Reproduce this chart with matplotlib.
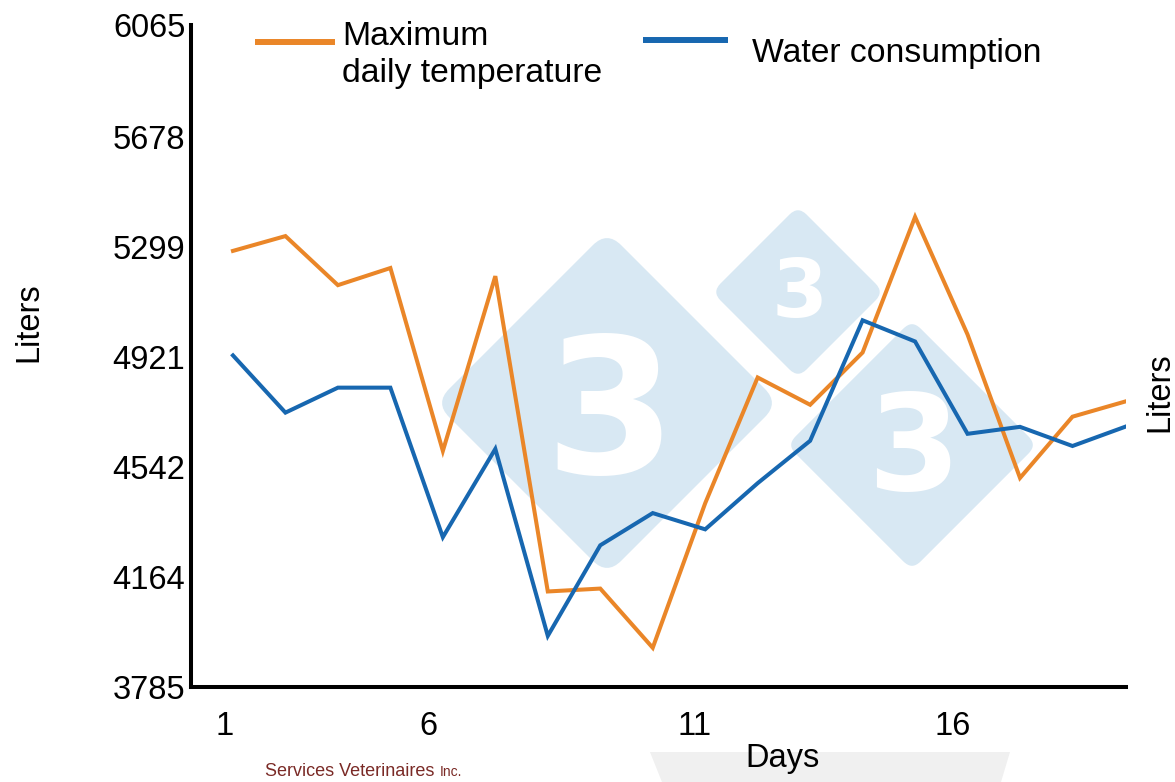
import matplotlib.pyplot as plt
from matplotlib.patches import FancyBboxPatch, Polygon
from matplotlib.transforms import Affine2D

plt.rcParams['font.family'] = ['Liberation Sans', 'DejaVu Sans']

# daily series, both on the liters scale
days = list(range(1, 19))
max_temp = [5287, 5338, 5169, 5228, 4598, 5200, 4114, 4124, 3920,
            4418, 4851, 4757, 4937, 5404, 4999, 4505, 4716, 4768]
water = [4927, 4730, 4816, 4816, 4301, 4605, 3961, 4273, 4384,
         4328, 4487, 4633, 5048, 4975, 4657, 4681, 4615, 4681]

y_ticks = [3785, 4164, 4542, 4921, 5299, 5678, 6065]
x_tick_pos = [0.85, 4.72, 9.79, 14.72]
x_tick_labels = ["1", "6", "11", "16"]

ORANGE = "#ea8628"
BLUE = "#1767b0"
WM = "#d8e8f3"
W, H = 1175, 782

fig = plt.figure(figsize=(W / 100, H / 100), dpi=100)

# background layer in pixel units (watermark, labels, legend)
bg = fig.add_axes([0, 0, 1, 1], zorder=0)
bg.set_xlim(0, W)
bg.set_ylim(H, 0)
bg.axis("off")


def diamond(cx, cy, half_diag, r, edge=None, lw=0):
    side = half_diag * 2 ** 0.5
    p = FancyBboxPatch((cx - side / 2, cy - side / 2), side, side,
                       boxstyle=f"round,pad=0,rounding_size={r}",
                       facecolor=WM, edgecolor=edge or WM, linewidth=lw)
    p.set_transform(Affine2D().rotate_deg_around(cx, cy, 45) + bg.transData)
    bg.add_patch(p)


diamond(607, 403, 172, 20)
diamond(798, 292, 86, 12)
diamond(912, 445, 130, 16, edge="white", lw=5)
for cx, cy, fs in [(610, 420, 136), (800, 295, 58), (913, 453, 96)]:
    bg.text(cx, cy, "3", color="white", fontsize=fs, fontweight="bold",
            ha="center", va="center", family="DejaVu Sans")

bg.add_patch(Polygon([(650, 752), (1010, 752), (1001, 782), (662, 782)],
                     closed=True, facecolor="#f0f0f0", edgecolor="none"))

# legend drawn by hand
bg.plot([255, 335], [42, 42], color=ORANGE, lw=4.3, solid_capstyle="butt")
bg.plot([643, 728], [40, 40], color=BLUE, lw=4.3, solid_capstyle="butt")
bg.text(342, 45, "Maximum", fontsize=24.3, va="baseline")
bg.text(342, 82, "daily temperature", fontsize=24.3, va="baseline")
bg.text(752, 62, "Water consumption", fontsize=24.3, va="baseline")

bg.text(782, 767, "Days", fontsize=23.5, ha="center", va="baseline")
bg.text(37, 322, "Liters", fontsize=23.5, rotation=90, rotation_mode="anchor",
        ha="center", va="baseline")
bg.text(1168, 392, "Liters", fontsize=23.5, rotation=90, rotation_mode="anchor",
        ha="center", va="baseline")
bg.text(265, 776, "Services Veterinaires", fontsize=13, color="#7a2a26", va="baseline")
bg.text(440, 776, "Inc.", fontsize=10, color="#7a2a26", va="baseline")

# main chart
ax = fig.add_axes([191 / W, 1 - 687 / H, (1126 - 191) / W, (687 - 25) / H], zorder=1)
ax.patch.set_alpha(0)
ax.plot(days, max_temp, color=ORANGE, lw=2.9, solid_joinstyle="miter")
ax.plot(days, water, color=BLUE, lw=2.9, solid_joinstyle="miter")

ax.set_xlim(0.2, 18.02)
ax.set_ylim(3785, 6065)
ax.set_yticks(y_ticks)
ax.set_xticks(x_tick_pos, x_tick_labels)
ax.tick_params(axis="both", length=0, labelsize=23.5)
ax.tick_params(axis="y", pad=4)
ax.tick_params(axis="x", pad=17)

for side in ["top", "right"]:
    ax.spines[side].set_visible(False)
for side in ["left", "bottom"]:
    ax.spines[side].set_linewidth(2.9)
    ax.spines[side].set_color("black")

fig.savefig("out.png", dpi=100)
